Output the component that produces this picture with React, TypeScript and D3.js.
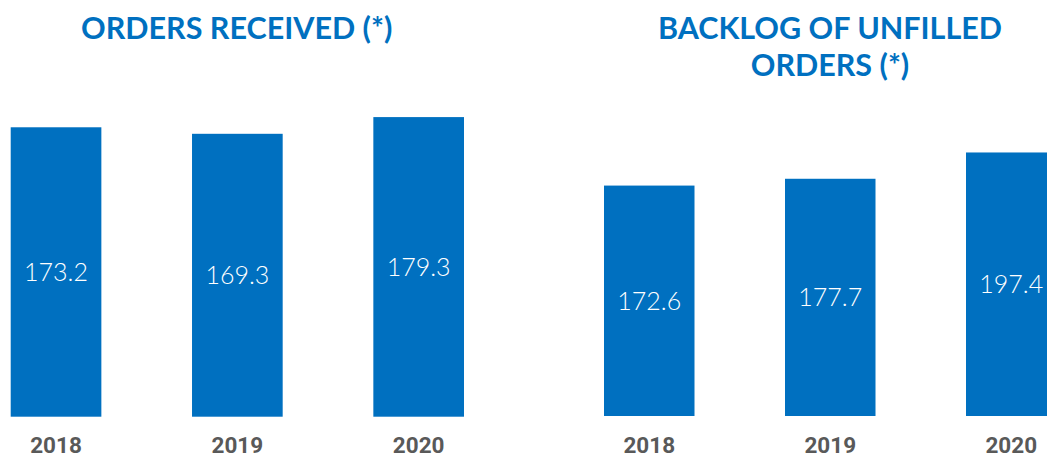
import React from "react";
import * as d3 from "d3";

const years = ["2018", "2019", "2020"];
const ordersReceived = [173.2, 169.3, 179.3];
const backlogOrders = [172.6, 177.7, 197.4];
const titleLeft = ["ORDERS RECEIVED (*)"];
const titleRight = ["BACKLOG OF UNFILLED", "ORDERS (*)"];

const BLUE = "#0070C0";
const GRAY = "#595959";

type PanelProps = {
  values: number[];
  title: string[];
  x0: number;
  x1: number;
  yBottom: number;
  pxPerUnit: number;
  titleX: number;
};

function Panel({ values, title, x0, x1, yBottom, pxPerUnit, titleX }: PanelProps) {
  const x = d3.scaleBand<string>().domain(years).range([x0, x1]).paddingInner(0.5).paddingOuter(0);
  const y = d3.scaleLinear().domain([0, 200]).range([yBottom, yBottom - 200 * pxPerUnit]);
  const fmt = d3.format(".1f");
  return (
    <g>
      {title.map((t, i) => (
        <text
          key={t}
          x={titleX}
          y={39 + i * 37}
          textAnchor="middle"
          fill={BLUE}
          fontFamily="Lato, 'Open Sans', sans-serif"
          fontWeight={700}
          fontSize={30.5}
        >
          {t}
        </text>
      ))}
      {values.map((v, i) => {
        const bx = x(years[i])!;
        const top = y(v);
        const bot = y(0);
        return (
          <g key={years[i]}>
            <rect x={bx} y={top} width={x.bandwidth()} height={bot - top} fill={BLUE} />
            <text
              x={bx + x.bandwidth() / 2}
              y={(top + bot) / 2}
              dy="0.35em"
              textAnchor="middle"
              fill="#ffffff"
              fontFamily="Lato, 'Open Sans', sans-serif"
              fontWeight={300}
              fontSize={25}
            >
              {fmt(v)}
            </text>
            <text
              x={bx + x.bandwidth() / 2}
              y={453}
              textAnchor="middle"
              fill={GRAY}
              fontFamily="Roboto, sans-serif"
              fontWeight={700}
              fontSize={22.5}
            >
              {years[i]}
            </text>
          </g>
        );
      })}
    </g>
  );
}

export default function App() {
  return (
    <svg
      width={1047}
      height={459}
      style={{ position: "absolute", left: 0, top: 0, background: "#ffffff" }}
    >
      <Panel values={ordersReceived} title={titleLeft} x0={10.7} x1={464} yBottom={416.7} pxPerUnit={1.671} titleX={236.7} />
      <Panel values={backlogOrders} title={titleRight} x0={604} x1={1056.5} yBottom={416} pxPerUnit={1.335} titleX={830} />
    </svg>
  );
}
